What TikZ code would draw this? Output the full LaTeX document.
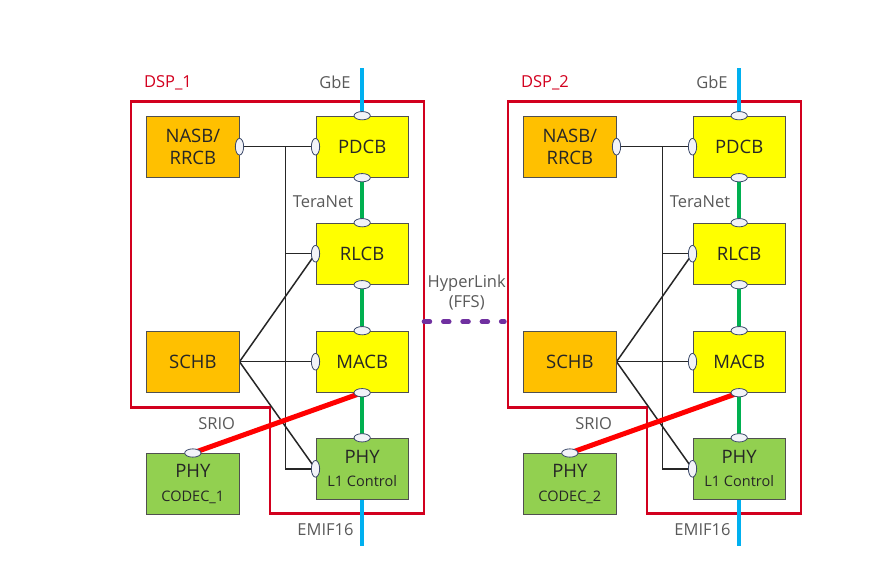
\documentclass[tikz,border=0pt]{standalone}
\usepackage{fontspec}
\setmainfont{Open Sans}
\usetikzlibrary{shapes.geometric}
\definecolor{dspred}{HTML}{D2001E}
\definecolor{orng}{HTML}{FFC000}
\definecolor{yel}{HTML}{FFFF00}
\definecolor{grn}{HTML}{92D050}
\definecolor{tgreen}{HTML}{00B050}
\definecolor{blu}{HTML}{00B0F0}
\definecolor{purp}{HTML}{7030A0}
\definecolor{bord}{HTML}{505050}
\definecolor{portb}{HTML}{3C4A6A}
\definecolor{portf}{HTML}{F2F3F8}
\definecolor{lbl}{HTML}{595959}
\pgfdeclarelayer{bg}
\pgfsetlayers{bg,main}
\begin{document}
\begin{tikzpicture}[x=1pt,y=-1pt,
 blk/.style={draw=bord, line width=1pt, minimum width=92.3pt, minimum height=61pt, inner sep=0pt, align=center, font=\fontsize{18.5}{22}\selectfont, text=black!85},
 ob/.style={blk, fill=orng}, yb/.style={blk, fill=yel}, gb/.style={blk, fill=grn},
 pv/.style={ellipse, draw=portb, fill=portf, line width=0.8pt, minimum width=8.3pt, minimum height=16.7pt, inner sep=0pt},
 ph/.style={pv, minimum width=16.3pt, minimum height=8.3pt},
 lab/.style={text=lbl, font=\fontsize{16.5}{20}\selectfont, inner sep=0pt},
 outl/.style={draw=dspred, line width=2.5pt},
 bus/.style={draw=black!85, line width=1.5pt},
 tnet/.style={draw=tgreen, line width=4pt},
 ext/.style={draw=blu, line width=4pt},
 srio/.style={draw=red, line width=5pt},
 hlink/.style={draw=purp, line width=5pt, line cap=round, dash pattern=on 5.5pt off 13.8pt}]
\useasboundingbox (0,0) rectangle (894,566);
\foreach \o/\s in {0/1,377/2}{
  % boxes
  \node[ob] (nasb\s) at (192.85+\o,146.7) {NASB/\\RRCB};
  \node[yb] (pdcb\s) at (362.15+\o,146.7) {PDCB};
  \node[yb] (rlcb\s) at (362.15+\o,253.7) {RLCB};
  \node[ob] (schb\s) at (192.85+\o,361.7) {SCHB};
  \node[yb] (macb\s) at (362.15+\o,361.7) {MACB};
  \node[gb] (phy\s) at (362.15+\o,468.8) {PHY\\[1.2pt]{\fontsize{14.5}{17}\selectfont L1 Control}};
  \node[gb] (codec\s) at (192.85+\o,484) {PHY\\[1.2pt]{\fontsize{14.5}{17}\selectfont CODEC\_\s}};
  % ports
  \node[pv] (nasbE\s) at (nasb\s.east) {};
  \node[pv] (pdcbW\s) at (pdcb\s.west) {};
  \node[ph] (pdcbN\s) at (pdcb\s.north) {};
  \node[ph] (pdcbS\s) at (pdcb\s.south) {};
  \node[ph] (rlcbN\s) at (rlcb\s.north) {};
  \node[pv] (rlcbW\s) at (rlcb\s.west) {};
  \node[ph] (rlcbS\s) at (rlcb\s.south) {};
  \node[ph] (macbN\s) at (macb\s.north) {};
  \node[pv] (macbW\s) at (macb\s.west) {};
  \node[ph] (macbS\s) at (macb\s.south) {};
  \node[ph] (phyN\s) at (phy\s.north) {};
  \node[pv] (phyW\s) at (phy\s.west) {};
  \node[ph] (codecN\s) at (codec\s.north) {};
  % labels
  \node[lab, text=dspred] (dsp\s) at (168+\o,82.7) {DSP\_\s};
  \node[lab] (gbeL\s) at (335+\o,82.7) {GbE};
  \node[lab] (teraL\s) at (323+\o,201.7) {TeraNet};
  \node[lab] (srioL\s) at (216.7+\o,424) {SRIO};
  \node[lab] (emifL\s) at (325.5+\o,530) {EMIF16};
  % connectors
  \begin{pgfonlayer}{bg}
    \draw[outl] (131+\o,101.7) -- (424+\o,101.7) -- (424+\o,513.3) -- (270+\o,513.3) -- (270+\o,407.3) -- (131+\o,407.3) -- cycle;
    \coordinate (gbe\s) at (362.15+\o,68);
    \coordinate (emif\s) at (362.15+\o,546);
    \coordinate (bx\s) at (285.7+\o,0);
    \draw[ext] (gbe\s) -- (pdcbN\s.center);
    \draw[ext] (phy\s.south) -- (emif\s);
    \draw[tnet] (pdcbS\s.center) -- (rlcbN\s.center);
    \draw[tnet] (rlcbS\s.center) -- (macbN\s.center);
    \draw[tnet] (macbS\s.center) -- (phyN\s.center);
    \draw[bus] (nasbE\s.center) -- (pdcbW\s.center);
    \draw[bus] (nasbE\s.center -| bx\s) |- (phyW\s.center);
    \draw[bus] (bx\s |- rlcbW\s.center) -- (rlcbW\s.center);
    \draw[bus] (schb\s.east) -- (rlcbW\s.center);
    \draw[bus] (schb\s.east) -- (macbW\s.center);
    \draw[bus] (schb\s.east) -- (phyW\s.center);
    \draw[srio] (codecN\s.center) -- (macbS\s.center);
  \end{pgfonlayer}
}
\node[lab, align=center] (hl) at (466.7,293) {HyperLink\\(FFS)};
\coordinate (hlA) at (424.2,321.7);
\coordinate (hlB) at (504.2,321.7);
\draw[hlink] (hlA) -- (hlB);
\end{tikzpicture}
\end{document}
